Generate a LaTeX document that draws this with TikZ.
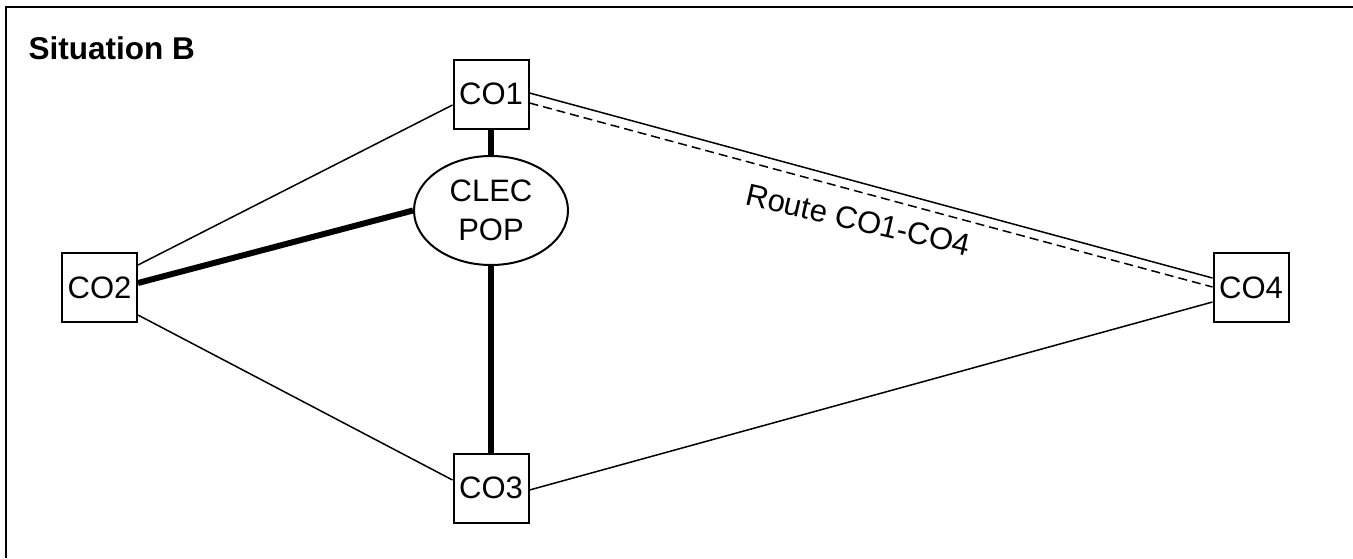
\documentclass[tikz,border=0pt]{standalone}
\usepackage{fontspec}
\setmainfont{Liberation Sans}
\usetikzlibrary{shapes.geometric}
\begin{document}
\begin{tikzpicture}[x=1pt,y=-1pt,
  office/.style={draw, line width=2pt, rectangle, minimum width=75pt, minimum height=69pt,
    inner sep=0pt, font=\fontsize{31}{36}\selectfont},
  pop/.style={draw, line width=2pt, ellipse, minimum width=154pt, minimum height=109pt,
    inner sep=0pt, align=center, font=\fontsize{31}{38.5}\selectfont},
  thin/.style={line width=1.5pt},
  heavy/.style={line width=6pt},
  route/.style={line width=1.5pt, dash pattern=on 9pt off 5pt},
  frame/.style={line width=2pt}]
  \useasboundingbox (0,0) rectangle (1353,558);

  % open frame: top and left edges only
  \coordinate (fbl) at (6,558);
  \coordinate (ftl) at (6,7);
  \coordinate (ftr) at (1353,7);
  \draw[frame] (fbl) -- (ftl) -- (ftr);

  \node[anchor=base west, font=\fontsize{31.5}{36}\selectfont\bfseries] (title) at (25,59.5) {Situation B};

  % central offices and the CLEC point of presence
  \node[office] (co1) at (491,94) {CO1};
  \node[office] (co2) at (99.5,287.5) {CO2};
  \node[office] (co3) at (491,488) {CO3};
  \node[office] (co4) at (1251,287.5) {CO4};
  \node[pop] (clec) at (491,210.5) {CLEC\\POP};

  % ring links between offices
  \draw[thin] ([yshift=-11pt]co1.west) -- ([yshift=22.5pt]co2.east);
  \draw[thin] ([yshift=-27.5pt]co2.east) -- ([yshift=8pt]co3.west);
  \draw[thin] ([yshift=1pt]co1.east) -- ([yshift=9.5pt]co4.west);
  \draw[thin] ([yshift=-2pt]co3.east) -- ([yshift=-14.5pt]co4.west);

  % planned route CO1 to CO4
  \draw[route] ([yshift=-9pt]co1.east) -- ([yshift=0.5pt]co4.west);
  \node[anchor=base, rotate=-13, font=\fontsize{31}{36}\selectfont] (lbl) at (856,230.5) {Route CO1-CO4};

  % CLEC fibre to the offices
  \draw[heavy] (co1.south) -- (clec.north);
  \draw[heavy] (clec.south) -- (co3.north);
  \draw[heavy] ([yshift=4.5pt]co2.east) -- (clec.west);
\end{tikzpicture}
\end{document}
